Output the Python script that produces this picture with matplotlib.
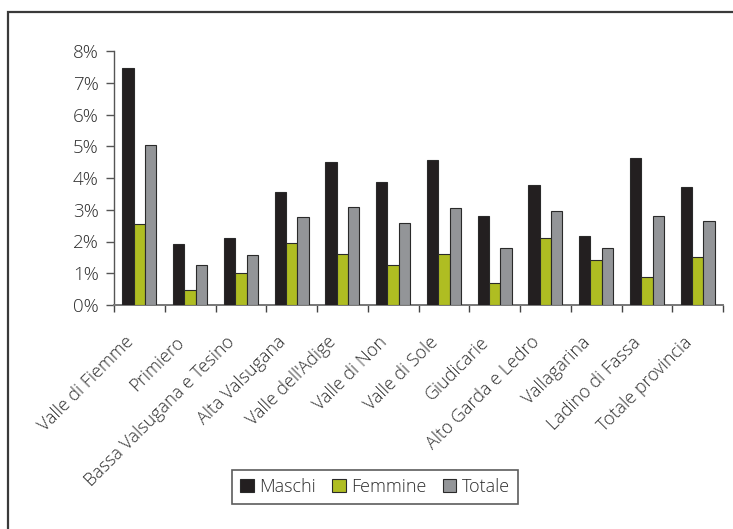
import matplotlib
matplotlib.use("Agg")
import matplotlib.pyplot as plt
import numpy as np
from matplotlib.patches import Rectangle
from matplotlib.ticker import FuncFormatter, MultipleLocator
from matplotlib.transforms import ScaledTranslation

categories = ["Valle di Fiemme", "Primiero", "Bassa Valsugana e Tesino",
              "Alta Valsugana", "Valle dell'Adige", "Valle di Non",
              "Valle di Sole", "Giudicarie", "Alto Garda e Ledro",
              "Vallagarina", "Ladino di Fassa", "Totale provincia"]
maschi = [7.46, 1.92, 2.11, 3.57, 4.49, 3.87, 4.57, 2.80, 3.79, 2.17, 4.63, 3.73]
femmine = [2.55, 0.47, 1.00, 1.96, 1.60, 1.27, 1.60, 0.68, 2.10, 1.41, 0.89, 1.52]
totale = [5.04, 1.26, 1.57, 2.76, 3.10, 2.59, 3.07, 1.78, 2.96, 1.81, 2.81, 2.65]
series_names = ["Maschi", "Femmine", "Totale"]
colors = ["#231f20", "#afbd22", "#939598"]

plt.rcParams['font.family'] = ['Open Sans', 'DejaVu Sans']
plt.rcParams['font.weight'] = 'light'
text_color = "#2e2e2e"

fig = plt.figure(figsize=(7.33, 5.29), dpi=100)
ax = fig.add_axes([114/733, 1 - 305/529, (723 - 114)/733, (305 - 51)/529])

# outer frame (top and left edges visible)
fig.patches.append(Rectangle((8/733, -0.1), 1.2, 0.1 + (529 - 12)/529,
                             transform=fig.transFigure, fill=False,
                             edgecolor="#3a3a3a", linewidth=1.6, zorder=0))

x = np.arange(len(categories))
w = 0.223
for i, (vals, name, c) in enumerate(zip([maschi, femmine, totale], series_names, colors)):
    ax.bar(x + (i - 1) * w, vals, width=w, color=c, edgecolor="#2a2a2a",
           linewidth=0.8, label=name, zorder=3)

ax.set_xlim(-0.5, len(categories) - 0.5)
ax.set_ylim(0, 8)
ax.yaxis.set_major_locator(MultipleLocator(1))
ax.yaxis.set_major_formatter(FuncFormatter(lambda v, p: f"{int(v)}%"))
ax.tick_params(axis='y', labelsize=13.5, colors="#555555", labelcolor=text_color,
               length=6, width=1, pad=5)

ax.set_xticks(x)
ax.set_xticklabels(categories, rotation=45, ha='right', rotation_mode='anchor',
                   fontsize=13, color=text_color)
ax.tick_params(axis='x', which='major', length=0, pad=8)
shift = ScaledTranslation(-15/100, -17/100, fig.dpi_scale_trans)
for lbl in ax.get_xticklabels():
    lbl.set_transform(lbl.get_transform() + shift)
ax.set_xticks(np.arange(-0.5, len(categories) + 0.5, 1), minor=True)
ax.tick_params(axis='x', which='minor', length=5, width=1, color="#444444")

for side in ["top", "right"]:
    ax.spines[side].set_visible(False)
ax.spines["left"].set_color("#555555")
ax.spines["bottom"].set_color("#777777")
ax.spines["left"].set_linewidth(1)
ax.spines["bottom"].set_linewidth(1.4)

leg = fig.legend(loc="center", bbox_to_anchor=(375/733, 1 - 487/529), ncol=3,
                 fontsize=13, frameon=True, fancybox=False, handlelength=0.75,
                 handleheight=0.75, handletextpad=0.3, columnspacing=0.9,
                 borderpad=0.45, labelcolor=text_color)
leg.get_frame().set_edgecolor("#333333")
leg.get_frame().set_linewidth(1.2)

fig.savefig("out.png", dpi=100)
